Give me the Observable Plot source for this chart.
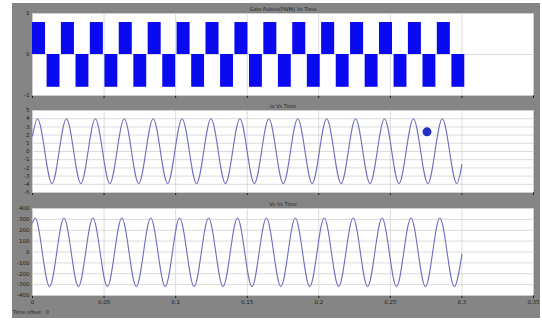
<!DOCTYPE html>
<html><head><meta charset="utf-8">
<script src="https://cdn.jsdelivr.net/npm/d3@7"></script>
<script src="https://cdn.jsdelivr.net/npm/@observablehq/plot@0.6"></script>
<style>
html,body{margin:0;padding:0;background:#fff;}
#wrap{position:relative;width:542px;height:321px;overflow:hidden;}
#bg{position:absolute;left:12px;top:3px;width:528px;height:315px;background:#858585;}
#wrap svg{position:absolute;left:0;top:0;}
#offset{position:absolute;left:13px;top:309px;font:5px "DejaVu Sans",sans-serif;color:#1a1a1a;white-space:nowrap;}
</style></head><body>
<div id="wrap"><div id="bg"></div><div id="offset">Time offset:&nbsp; 0</div></div>
<script>
// ---- data ----
const xTicks = [0, 0.05, 0.1, 0.15, 0.2, 0.25, 0.3, 0.35];
const gateTicks = [-1, 0, 1];
const ioTicks = [-5, -4, -3, -2, -1, 0, 1, 2, 3, 4, 5];
const voTicks = [-400, -300, -200, -100, 0, 100, 200, 300, 400];

const titles = ["Gate Pulses(PWM) Vs Time", "Io Vs Time", "Vo Vs Time"];

// gate pulses: positive pulse [posStart, posEnd], negative pulse [negStart, negEnd]
const posStart = [0, 0.0202, 0.0404, 0.0606, 0.0808, 0.1010, 0.1212, 0.1414, 0.1616, 0.1818, 0.2020, 0.2222, 0.2424, 0.2626, 0.2828];
const posEnd   = [0.0091, 0.0293, 0.0495, 0.0697, 0.0899, 0.1101, 0.1303, 0.1505, 0.1707, 0.1909, 0.2111, 0.2313, 0.2515, 0.2717, 0.2919];
const negStart = [0.0102, 0.0304, 0.0506, 0.0708, 0.0910, 0.1112, 0.1314, 0.1516, 0.1718, 0.1920, 0.2122, 0.2324, 0.2526, 0.2728, 0.2930];
const negEnd   = [0.0192, 0.0394, 0.0596, 0.0798, 0.1000, 0.1202, 0.1404, 0.1606, 0.1808, 0.2010, 0.2212, 0.2414, 0.2616, 0.2818, 0.3020];
const pulseHigh = 0.78;
const pulseLow = -0.8;

// Io: start, alternating peaks/troughs, end
const ioTimes = [0, 0.0035, 0.0136, 0.0237, 0.0338, 0.0439, 0.0540, 0.0641, 0.0742, 0.0843, 0.0944, 0.1045, 0.1146, 0.1247, 0.1348, 0.1449, 0.1550, 0.1651, 0.1752, 0.1853, 0.1954, 0.2055, 0.2156, 0.2257, 0.2358, 0.2459, 0.2560, 0.2661, 0.2762, 0.2863, 0.2964, 0.3];
const ioValues = [1.9, 4.0, -3.9, 4.0, -3.9, 4.0, -3.9, 4.0, -3.9, 4.0, -3.9, 4.0, -3.9, 4.0, -3.9, 4.0, -3.9, 4.0, -3.9, 4.0, -3.9, 4.0, -3.9, 4.0, -3.9, 4.0, -3.9, 4.0, -3.9, 4.0, -3.9, -1.6];
const markerT = [0.2756];
const markerV = [2.4];

// Vo
const voTimes = [0, 0.0018, 0.0119, 0.0220, 0.0321, 0.0422, 0.0523, 0.0624, 0.0725, 0.0826, 0.0927, 0.1028, 0.1129, 0.1230, 0.1331, 0.1432, 0.1533, 0.1634, 0.1735, 0.1836, 0.1937, 0.2038, 0.2139, 0.2240, 0.2341, 0.2442, 0.2543, 0.2644, 0.2745, 0.2846, 0.2947, 0.3];
const voValues = [268, 312, -318, 312, -318, 312, -318, 312, -318, 312, -318, 312, -318, 312, -318, 312, -318, 312, -318, 312, -318, 312, -318, 312, -318, 312, -318, 312, -318, 312, -318, -20];

// ---- build ----
const W = 542, H = 321;
const pos = posStart.map((s, i) => ({x1: s, x2: posEnd[i], y1: 0, y2: pulseHigh}));
const neg = negStart.map((s, i) => ({x1: s, x2: negEnd[i], y1: 0, y2: pulseLow}));
const io = ioTimes.map((t, i) => ({t, v: ioValues[i]}));
const vo = voTimes.map((t, i) => ({t, v: voValues[i]}));
const marker = markerT.map((t, i) => ({t, v: markerV[i]}));

const fmtX = d => `${+d.toFixed(2)}`;
const gridColor = "#d2d2d2";
const waveColor = "#6e6ebd";

function panel({top, bottom, yDomain, yTicks, title, marks, showX}) {
  return Plot.plot({
    width: W, height: H,
    marginLeft: 32, marginRight: 9, marginTop: top, marginBottom: H - bottom,
    style: {background: "transparent", fontSize: "5.5px", fontFamily: "'DejaVu Sans', sans-serif", color: "#1c1c1c"},
    x: {domain: [0, 0.35], ticks: xTicks, tickSize: 3, tickPadding: 2, tickFormat: showX ? fmtX : () => "", label: null},
    y: {domain: yDomain, ticks: yTicks, tickSize: 0, tickPadding: 3, tickFormat: d => `${d}`, label: null},
    marks: [
      Plot.frame({fill: "white", stroke: "none"}),
      Plot.ruleX(xTicks, {stroke: gridColor, strokeWidth: 0.8}),
      Plot.ruleY(yTicks, {stroke: gridColor, strokeWidth: 0.8}),
      ...marks,
      Plot.text([title], {text: d => d, frameAnchor: "top", dy: -6, fontSize: 5, fill: "#222"})
    ]
  });
}

const p1 = panel({
  top: 13, bottom: 95, yDomain: [-1, 1], yTicks: gateTicks, title: titles[0], showX: false,
  marks: [
    Plot.rect(pos, {x1: "x1", x2: "x2", y1: "y1", y2: "y2", fill: "#0a0af0"}),
    Plot.rect(neg, {x1: "x1", x2: "x2", y1: "y1", y2: "y2", fill: "#0a0af0"})
  ]
});
const p2 = panel({
  top: 110, bottom: 192, yDomain: [-5, 5], yTicks: ioTicks, title: titles[1], showX: false,
  marks: [
    Plot.line(io, {x: "t", y: "v", curve: "monotone-x", stroke: waveColor, strokeWidth: 1.1}),
    Plot.dot(marker, {x: "t", y: "v", r: 4.5, fill: "#2231c0", stroke: "none"})
  ]
});
const p3 = panel({
  top: 208, bottom: 295, yDomain: [-400, 400], yTicks: voTicks, title: titles[2], showX: true,
  marks: [
    Plot.line(vo, {x: "t", y: "v", curve: "monotone-x", stroke: waveColor, strokeWidth: 1.1})
  ]
});
const wrap = document.getElementById("wrap");
wrap.insertBefore(p1, document.getElementById("offset"));
wrap.insertBefore(p2, document.getElementById("offset"));
wrap.insertBefore(p3, document.getElementById("offset"));
</script>
</body></html>
